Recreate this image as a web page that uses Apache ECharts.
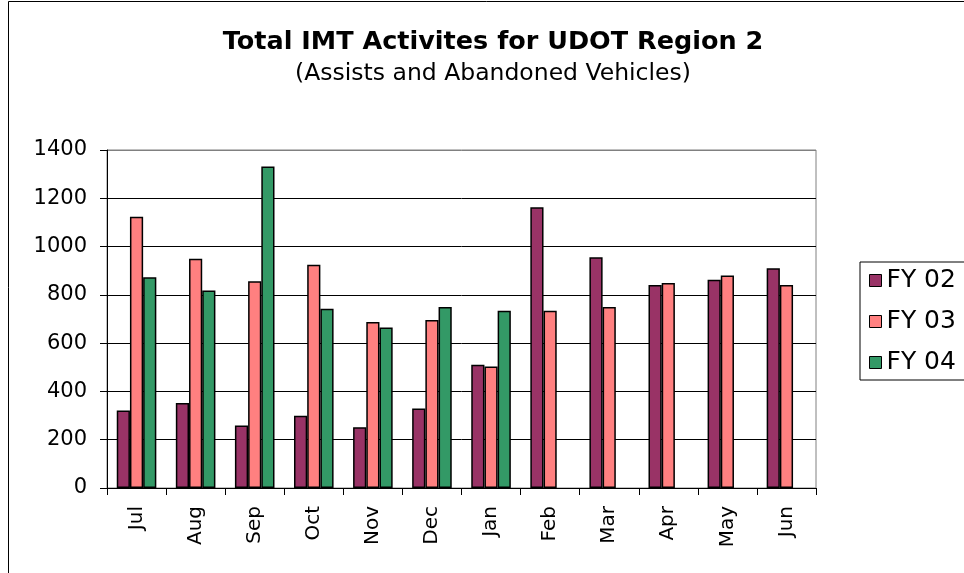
<!DOCTYPE html>
<html>
<head>
<meta charset="utf-8">
<script src="https://cdn.jsdelivr.net/npm/echarts@6/dist/echarts.min.js"></script>
<style>
  html, body { margin: 0; padding: 0; background: #fff; }
  #chart { width: 964px; height: 573px; }
</style>
</head>
<body>
<div id="chart"></div>
<script>
const months = ["Jul", "Aug", "Sep", "Oct", "Nov", "Dec", "Jan", "Feb", "Mar", "Apr", "May", "Jun"];
const fy02 = [321, 352, 259, 299, 252, 329, 511, 1163, 956, 841, 863, 910];
const fy03 = [1124, 950, 856, 925, 688, 696, 503, 734, 750, 849, 880, 841];
const fy04 = [873, 818, 1332, 742, 665, 750, 734, null, null, null, null, null];

const font = "DejaVu Sans";
const chart = echarts.init(document.getElementById("chart"), null, { renderer: "canvas" });

const barSeries = (name, data, color) => ({
    name,
    type: "bar",
    data,
    barGap: "0%",
    barCategoryGap: "33%",
    itemStyle: {
        color,
        borderColor: "#000",
        borderWidth: 1.5,
    },
});

const option = {
    animation: false,
    backgroundColor: "#fff",
    title: [
        {
            text: "Total IMT Activites for UDOT Region 2",
            left: 493,
            top: 29,
            padding: 0,
            textAlign: "center",
            textStyle: { fontFamily: font, fontWeight: "bold", fontSize: 25.5, color: "#000" },
        },
        {
            text: "(Assists and Abandoned Vehicles)",
            left: 493,
            top: 62,
            padding: 0,
            textAlign: "center",
            textStyle: { fontFamily: font, fontWeight: "normal", fontSize: 23.5, color: "#000" },
        },
    ],
    legend: {
        orient: "vertical",
        left: 860,
        top: 262,
        padding: [6, 40, 5, 9],
        itemGap: 16,
        itemWidth: 12,
        itemHeight: 12,
        borderColor: "#000",
        borderWidth: 1,
        icon: "rect",
        itemStyle: { borderColor: "#000", borderWidth: 1 },
        textStyle: { fontFamily: font, fontSize: 25, color: "#000", lineHeight: 24 },
        data: ["FY 02", "FY 03", "FY 04"],
    },
    grid: {
        left: 107,
        right: 148,
        top: 150,
        bottom: 85,
        show: true,
        borderColor: "#808080",
        borderWidth: 1,
    },
    xAxis: {
        type: "category",
        data: months,
        axisLine: { lineStyle: { color: "#000", width: 1 } },
        axisTick: { show: true, length: 7, lineStyle: { color: "#000" } },
        axisLabel: {
            rotate: 90,
            margin: 18,
            fontFamily: font,
            fontSize: 20,
            color: "#000",
        },
    },
    yAxis: {
        type: "value",
        min: 0,
        max: 1400,
        interval: 200,
        axisLine: { show: true, lineStyle: { color: "#000", width: 1 } },
        axisTick: { show: true, length: 7, lineStyle: { color: "#000" } },
        axisLabel: {
            margin: 20,
            fontFamily: font,
            fontSize: 21,
            color: "#000",
            formatter: (v) => String(v),
        },
        splitLine: {
            show: true,
            lineStyle: {
                color: ["#000", "#000", "#000", "#000", "#000", "#000", "#000", "#808080"],
                width: 1,
            },
        },
    },
    graphic: [
        {
            type: "rect",
            shape: { x: 8.5, y: 1.5, width: 1000, height: 620 },
            style: { fill: null, stroke: "#000", lineWidth: 1 },
            silent: true,
        },
    ],
    series: [
        barSeries("FY 02", fy02, "#993366"),
        barSeries("FY 03", fy03, "#FF8080"),
        barSeries("FY 04", fy04, "#339966"),
    ],
};

chart.setOption(option);
</script>
</body>
</html>
